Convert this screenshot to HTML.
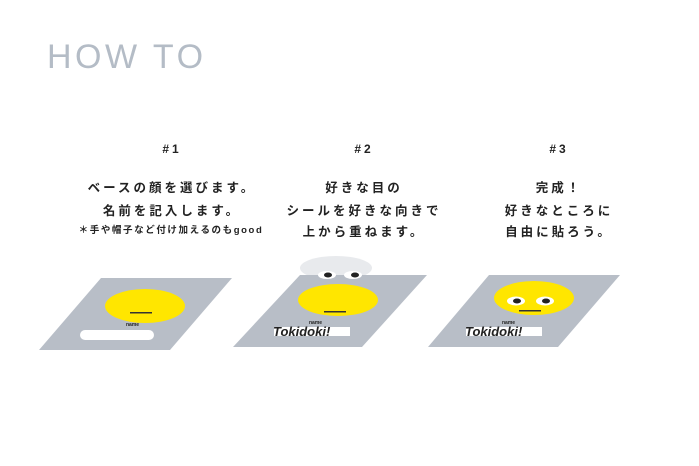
<!DOCTYPE html>
<html><head><meta charset="utf-8"><style>
html,body{margin:0;padding:0;background:#fff;}
svg{display:block;}
.j{font-family:"Liberation Sans","Noto Sans CJK JP",sans-serif;fill:#222;font-weight:bold;}
</style></head><body>
<svg width="699" height="466" viewBox="0 0 699 466" xmlns="http://www.w3.org/2000/svg">
<text x="47" y="68" font-family="Liberation Sans, sans-serif" font-size="34" fill="#b4bcc6" letter-spacing="3.5">HOW TO</text>

<g class="j" text-anchor="middle" font-size="12.5" letter-spacing="3">
<text x="172" y="153" font-size="12">#1</text>
<text x="172" y="192">ベースの顔を選びます。</text>
<text x="172" y="215">名前を記入します。</text>
<text x="171" y="233" font-size="9.5" letter-spacing="1.6">＊手や帽子など付け加えるのもgood</text>
<text x="364" y="153" font-size="12">#2</text>
<text x="364" y="192">好きな目の</text>
<text x="364" y="215">シールを好きな向きで</text>
<text x="364" y="236">上から重ねます。</text>
<text x="559" y="153" font-size="12">#3</text>
<text x="559" y="192">完成！</text>
<text x="559" y="215">好きなところに</text>
<text x="559" y="236">自由に貼ろう。</text>
</g>

<!-- card 1 -->
<polygon points="101,278 232,278 170,350 39,350" fill="#b8bec7"/>
<ellipse cx="145" cy="306" rx="40" ry="17" fill="#ffe600"/>
<rect x="130" y="312" width="22" height="1.5" fill="#333"/>
<text x="126" y="326" font-family="Liberation Sans, sans-serif" font-size="5" font-weight="bold" fill="#222">name</text>
<rect x="80" y="330" width="74" height="10" rx="5" fill="#fff"/>

<!-- card 2 -->
<ellipse cx="336" cy="268" rx="36" ry="12" fill="#e8eaed"/>
<polygon points="300,275 427,275 362,347 233,347" fill="#b8bec7"/>
<ellipse cx="327" cy="275" rx="9" ry="4" fill="#fff"/>
<ellipse cx="353" cy="275" rx="9" ry="4" fill="#fff"/>
<ellipse cx="328" cy="275" rx="4" ry="2.5" fill="#222"/>
<ellipse cx="355" cy="275" rx="4" ry="2.5" fill="#222"/>
<ellipse cx="338" cy="300" rx="40" ry="16" fill="#ffe600"/>
<rect x="324" y="311" width="22" height="1.5" fill="#333"/>
<text x="309" y="324" font-family="Liberation Sans, sans-serif" font-size="5" font-weight="bold" fill="#222">name</text>
<rect x="274" y="327" width="76" height="9" fill="#fff"/>
<text x="273" y="336" font-family="Liberation Sans, sans-serif" font-size="13" font-style="italic" font-weight="bold" fill="#222">Tokidoki!</text>

<!-- card 3 -->
<polygon points="489,275 620,275 558,347 428,347" fill="#b8bec7"/>
<ellipse cx="534" cy="298" rx="40" ry="17" fill="#ffe600"/>
<ellipse cx="516" cy="301" rx="9" ry="4.5" fill="#fff"/>
<ellipse cx="545" cy="301" rx="9" ry="4.5" fill="#fff"/>
<ellipse cx="517" cy="301" rx="4" ry="2.5" fill="#222"/>
<ellipse cx="546" cy="301" rx="4" ry="2.5" fill="#222"/>
<rect x="519" y="310" width="22" height="1.5" fill="#333"/>
<text x="502" y="324" font-family="Liberation Sans, sans-serif" font-size="5" font-weight="bold" fill="#222">name</text>
<rect x="466" y="327" width="76" height="9" fill="#fff"/>
<text x="465" y="336" font-family="Liberation Sans, sans-serif" font-size="13" font-style="italic" font-weight="bold" fill="#222">Tokidoki!</text>
</svg>
</body></html>
